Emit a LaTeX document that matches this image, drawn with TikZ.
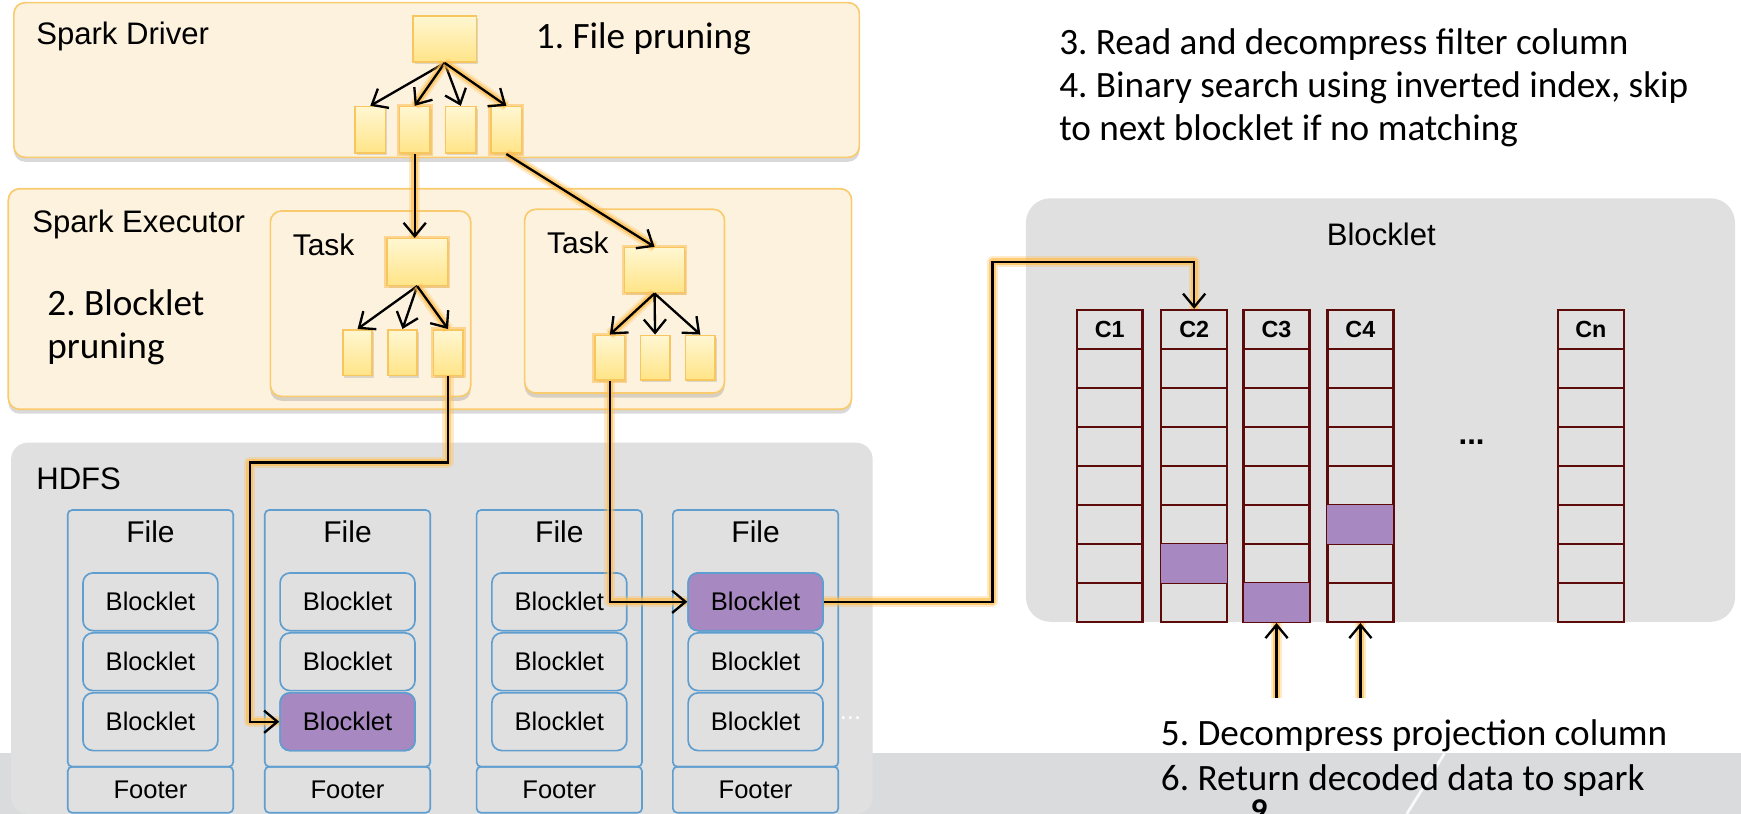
\documentclass[tikz,border=0pt]{standalone}
\usepackage{fontspec}
\setmainfont{Liberation Sans}
\newfontfamily\calib{Carlito}
\frenchspacing
\usetikzlibrary{arrows.meta,shadows,calc}
\definecolor{creamfill}{RGB}{253,242,222}
\definecolor{creamdraw}{RGB}{250,203,110}
\definecolor{ytop}{RGB}{255,247,210}
\definecolor{ybot}{RGB}{255,228,135}
\definecolor{ydraw}{RGB}{248,198,95}
\definecolor{glowc}{RGB}{255,190,80}
\definecolor{boxgray}{RGB}{224,224,224}
\definecolor{bandgray}{RGB}{218,219,221}
\definecolor{fileblue}{RGB}{96,158,208}
\definecolor{purp}{RGB}{167,136,193}
\definecolor{maroon}{RGB}{92,10,10}
\begin{document}
\begin{tikzpicture}[x=1pt,y=-1pt,
  sz/.style args={#1/#2}{minimum width=#1pt, minimum height=#2pt, inner sep=0pt},
  creambox/.style={draw=creamdraw, fill=creamfill, line width=1.5pt, rounded corners=10pt,
    drop shadow={opacity=0.3, shadow xshift=0pt, shadow yshift=-4pt}},
  graybox/.style={fill=boxgray, rounded corners=#1},
  ynode/.style={draw=ydraw, line width=1.4pt, top color=ytop, bottom color=ybot,
    drop shadow={opacity=0.25, shadow xshift=1.5pt, shadow yshift=-2pt}},
  glownode/.style={preaction={draw=glowc, line width=5pt, opacity=.55}},
  conn/.style={draw=black, line width=2.1pt, -{Straight Barb[length=12pt,width=20pt]}},
  glow/.style={preaction={draw=glowc, line width=10pt, opacity=0.3, -, line join=round},
               preaction={draw=glowc, line width=6pt, opacity=0.7, -, line join=round}},
  ttl/.style={font=\fontsize{28}{32}\selectfont, inner sep=0pt},
  tsk/.style={font=\fontsize{27}{32}\selectfont, inner sep=0pt},
  filelab/.style={font=\fontsize{27}{32}\selectfont, inner sep=0pt},
  smalltxt/.style={font=\fontsize{23}{26}\selectfont},
  cal/.style={font=\calib\fontsize{33.5}{38}\selectfont, inner sep=0pt},
  filebox/.style={draw=fileblue, line width=1.5pt, rounded corners=4pt},
  blk/.style={draw=fileblue, line width=1.5pt, rounded corners=9pt, fill=boxgray,
    sz=121.5/52, font=\fontsize{23}{26}\selectfont},
  cell/.style={draw=maroon, line width=2.2pt, sz=59.3/35.1},
  colhead/.style={cell, font=\bfseries\fontsize{21}{24}\selectfont}
]
\useasboundingbox (0,0) rectangle (1568,733);

% slide footer band
\fill[bandgray] (0,678.5) rectangle (1568,733);
\draw[white, line width=2.5pt, opacity=0.85] (1301,678.5) -- (1267,733);

% containers
\node[creambox, sz=761.5/139.3] (driver) at (393.25,72.05) {};
\node[creambox, sz=759.5/198.6] (executor) at (387.25,269.3) {};
\node[creambox, sz=180.5/167] (task1) at (333.75,273.5) {};
\node[creambox, sz=180/165.5] (task2) at (562.5,271.25) {};
\node[graybox=15pt, sz=776/334.3] (hdfs) at (398,565.85) {};
\node[graybox=22pt, sz=638.6/381.4] (blkarea) at (1243.3,369.3) {};

% titles
\node[ttl, anchor=base west] (tdriver) at (32.5,40.5) {Spark Driver};
\node[ttl, anchor=base west] (texec) at (29,209) {Spark Executor};
\node[tsk, anchor=base west] (ttask1) at (263.5,230) {Task};
\node[tsk, anchor=base west] (ttask2) at (492.5,228) {Task};
\node[ttl, anchor=base west] (thdfs) at (32.5,440.7) {HDFS};
\node[ttl, anchor=base] (tblk) at (1244,220.7) {Blocklet};

\node[cal, anchor=base west] (s1) at (482.5,43.5) {1. File pruning};
\node[cal, anchor=base west] (s2a) at (42.5,283.7) {2. Blocklet};
\node[cal, anchor=base west] (s2b) at (42.5,322.7) {pruning};
\node[cal, anchor=base west] (s3a) at (953.8,49.5) {3. Read and decompress filter column};
\node[cal, anchor=base west] (s3b) at (953.8,88) {4. Binary search using inverted index, skip};
\node[cal, anchor=base west] (s3c) at (953.8,126.5) {to next blocklet if no matching};
\node[cal, anchor=base west] (s5) at (1045.4,671) {5. Decompress projection column};
\node[cal, anchor=base west] (s6) at (1045.4,711.5) {6. Return decoded data to spark};
\node[cal, anchor=base, font=\calib\bfseries\fontsize{30}{34}\selectfont] (pg) at (1134,739.5) {9};

% driver tree
\node[ynode, sz=57/41.6] (d0) at (400.5,35.2) {};
\node[ynode, sz=27.5/42] (d1) at (333.5,117) {};
\node[ynode, glownode, sz=27.5/42] (d2) at (373.5,117) {};
\node[ynode, sz=27.5/42] (d3) at (415,117) {};
\node[ynode, glownode, sz=27.5/42] (d4) at (456,117) {};

% task 1 tree
\node[ynode, glownode, sz=54.5/42] (t1top) at (375.75,236) {};
\node[ynode, sz=26.5/41] (t1c1) at (322,317.5) {};
\node[ynode, sz=26.5/41] (t1c2) at (362.5,317.5) {};
\node[ynode, glownode, sz=26.5/41] (t1c3) at (403.5,317.5) {};

% task 2 tree
\node[ynode, glownode, sz=54/40.6] (t2top) at (589.5,243.3) {};
\node[ynode, glownode, sz=26.5/40] (t2c1) at (549.25,322) {};
\node[ynode, sz=26.5/40] (t2c2) at (590,322) {};
\node[ynode, sz=26.5/40] (t2c3) at (630.75,322) {};

% files
\foreach \i/\cx in {1/135.5, 2/313, 3/503.75, 4/680.5} {
  \node[filebox, sz=149/231.2] (f\i) at (\cx,574.9) {};
  \node[filebox, sz=149/41.5, smalltxt] (ft\i) at (\cx,711.25) {Footer};
  \node[filelab] (fl\i) at (\cx,479) {File};
}
\foreach \i/\cx in {1/135.5, 2/313, 3/503.75, 4/680.5} {
  \foreach \k/\cy in {1/542, 2/596, 3/650} {
    \node[blk] (b\i\k) at (\cx,\cy) {Blocklet};
  }
}
\node[blk, fill=purp] (b23p) at (b23) {Blocklet};
\node[blk, fill=purp] (b41p) at (b41) {Blocklet};
\node[smalltxt, text=white, inner sep=0pt] (hdots) at (766,647) {...};

% blocklet columns: header + 7 rows
\foreach \cx/\lab/\nm in {999.5/C1/1, 1075.5/C2/2, 1149.7/C3/3, 1225.2/C4/4, 1432.75/Cn/n} {
  \node[colhead] (h\nm) at (\cx,296.75) {\lab};
  \foreach \k in {1,...,7} {
    \node[cell] (c\nm r\k) at (\cx,{296.75+35.1*\k}) {};
  }
}
\fill[purp] ([shift={(1.1pt,-1.1pt)}]c2r6.north west) rectangle ([shift={(-1.1pt,1.1pt)}]c2r6.south east);
\fill[purp] ([shift={(1.1pt,-1.1pt)}]c3r7.north west) rectangle ([shift={(-1.1pt,1.1pt)}]c3r7.south east);
\fill[purp] ([shift={(1.1pt,-1.1pt)}]c4r5.north west) rectangle ([shift={(-1.1pt,1.1pt)}]c4r5.south east);
\node[font=\bfseries\fontsize{28}{30}\selectfont, inner sep=0pt] (cdots) at (1325.4,398) {...};

% connectors: driver tree
\draw[conn] (d0.south) -- (d1.north);
\draw[conn,glow] (d0.south) -- (d2.north);
\draw[conn] (d0.south) -- (d3.north);
\draw[conn,glow] (d0.south) -- (d4.north);
\draw[conn,glow] (d2.south) -- (d2.south |- t1top.north);
\draw[conn,glow] (d4.south) -- (t2top.north);
% task trees
\draw[conn] (t1top.south) -- (t1c1.north);
\draw[conn] (t1top.south) -- (t1c2.north);
\draw[conn,glow] (t1top.south) -- (t1c3.north);
\draw[conn,glow] (t2top.south) -- (t2c1.north);
\draw[conn] (t2top.south) -- (t2c2.north);
\draw[conn] (t2top.south) -- (t2c3.north);
% to HDFS and the blocklet
\coordinate (bend1) at (225,416.4);
\draw[conn,glow] (t1c3.south) |- (bend1) |- (b23p.west);
\draw[conn,glow] (t2c1.south) |- (b41p.west);
\coordinate (bend2) at (893.8,235.7);
\draw[conn,glow] (b41p.east) -| (bend2) -| (h2.north);
\coordinate (u3) at (1149.7,629);
\coordinate (u4) at (1225.2,629);
\draw[conn,glow] (u3) -- (c3r7.south);
\draw[conn,glow] (u4) -- (c4r7.south);
\end{tikzpicture}
\end{document}
